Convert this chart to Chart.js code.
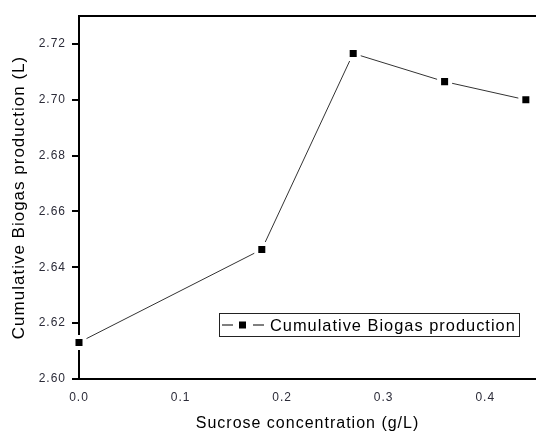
<!DOCTYPE html>
<html>
<head>
<meta charset="utf-8">
<script src="https://cdn.jsdelivr.net/npm/chart.js@4.4.0/dist/chart.umd.min.js"></script>
<style>
html,body{margin:0;padding:0;background:#fff;}
#wrap{width:536px;height:431px;}
</style>
</head>
<body>
<div id="wrap"><canvas id="c" width="536" height="431"></canvas></div>
<script>
const seriesLabel = 'Cumulative Biogas production';
const xValues = [0.0, 0.18, 0.27, 0.36, 0.44];
const yValues = [2.6131, 2.6464, 2.7166, 2.7065, 2.7000];
const xTicks = [0.0, 0.1, 0.2, 0.3, 0.4];
const yTicks = [2.60, 2.62, 2.64, 2.66, 2.68, 2.70, 2.72];
const xTitle = 'Sucrose concentration (g/L)';
const yTitle = 'Cumulative Biogas production (L)';

const points = xValues.map((x, i) => ({x: x, y: yValues[i]}));
const FONT = '"Liberation Sans", Arial, sans-serif';

// the plot area runs to the right edge of the picture; markers must not shrink it
Chart.ScatterController.prototype.getMaxOverflow = function () { return 0; };

const spacingPlugin = {
  id: 'spacing',
  beforeInit(chart) { if ('letterSpacing' in chart.ctx) chart.ctx.letterSpacing = '1px'; },
  beforeUpdate(chart) { if ('letterSpacing' in chart.ctx) chart.ctx.letterSpacing = '1px'; },
  beforeDraw(chart) { if ('letterSpacing' in chart.ctx) chart.ctx.letterSpacing = '1px'; }
};

const framePlugin = {
  id: 'frame',
  afterDraw(chart) {
    const ctx = chart.ctx, a = chart.chartArea;
    ctx.save();
    ctx.strokeStyle = '#000';
    ctx.lineWidth = 2;
    ctx.beginPath();
    ctx.moveTo(a.left - 1, a.top);
    ctx.lineTo(chart.width, a.top);
    ctx.stroke();
    // legend
    const bx = 219.5, by = 313.5, bw = 300, bh = 23;
    ctx.fillStyle = '#fff';
    ctx.fillRect(bx, by, bw, bh);
    ctx.lineWidth = 1;
    ctx.strokeStyle = '#222';
    ctx.strokeRect(bx, by, bw, bh);
    const ly = by + bh / 2;
    ctx.strokeStyle = '#000';
    ctx.lineWidth = 1.2;
    ctx.beginPath();
    ctx.moveTo(222, ly); ctx.lineTo(233, ly);
    ctx.moveTo(253, ly); ctx.lineTo(264, ly);
    ctx.stroke();
    ctx.fillStyle = '#000';
    ctx.fillRect(239, ly - 3.5, 7, 7);
    ctx.font = '16.4px ' + FONT;
    ctx.textBaseline = 'middle';
    ctx.textAlign = 'left';
    if ('letterSpacing' in ctx) ctx.letterSpacing = '1px';
    ctx.fillStyle = '#000';
    ctx.fillText(seriesLabel, 270, ly + 1);
    ctx.restore();
  }
};

new Chart(document.getElementById('c'), {
  type: 'scatter',
  data: {
    datasets: [{
      label: seriesLabel,
      data: points,
      showLine: true,
      borderColor: '#333',
      borderWidth: 1,
      pointStyle: 'rect',
      pointRadius: 7.8,
      pointHoverRadius: 7.8,
      pointBackgroundColor: '#000',
      pointBorderColor: '#fff',
      pointBorderWidth: 4,
      clip: false
    }]
  },
  options: {
    responsive: false,
    animation: false,
    devicePixelRatio: 1,
    layout: {padding: {left: 0, right: 0, top: 16, bottom: 0}},
    plugins: {legend: {display: false}, tooltip: {enabled: false}},
    scales: {
      x: {
        type: 'linear',
        min: 0,
        max: 0.45,
        afterBuildTicks(s) { s.ticks = xTicks.map(v => ({value: v})); },
        grid: {display: false},
        border: {display: true, color: '#000', width: 2},
        ticks: {
          padding: 3,
          color: '#2b2b38',
          font: {family: FONT, size: 12},
          maxRotation: 0,
          callback: v => Number(v).toFixed(1)
        },
        title: {
          display: true,
          text: xTitle,
          color: '#000',
          font: {family: FONT, size: 16},
          padding: {top: 18, bottom: -2}
        },
        afterFit(s) { s.height = 52; s.paddingRight = 0; s.paddingLeft = 0; }
      },
      y: {
        type: 'linear',
        min: 2.60,
        max: 2.73,
        afterBuildTicks(s) { s.ticks = yTicks.map(v => ({value: v})); },
        grid: {display: true, drawOnChartArea: false, drawTicks: true, tickLength: 7, color: '#000', lineWidth: 2},
        border: {display: true, color: '#000', width: 2},
        ticks: {
          padding: 6,
          color: '#2b2b38',
          font: {family: FONT, size: 12},
          callback: v => Number(v).toFixed(2)
        },
        title: {
          display: true,
          text: yTitle,
          color: '#000',
          font: {family: FONT, size: 17},
          padding: {top: 9, bottom: 2}
        },
        afterFit(s) { s.width = 79; s.paddingTop = 0; s.paddingBottom = 0; }
      }
    }
  },
  plugins: [spacingPlugin, framePlugin]
});
</script>
</body>
</html>
